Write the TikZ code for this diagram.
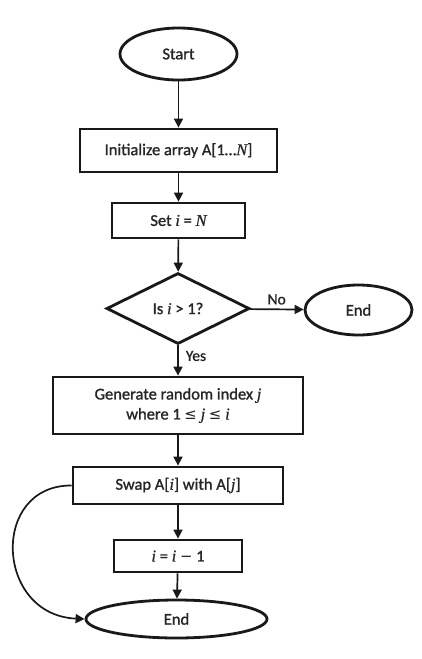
\documentclass[tikz,border=0pt]{standalone}
\usepackage{fontspec}
\setmainfont{Carlito}[FakeBold=1.2]
\newfontfamily\varfont{Liberation Serif}[FakeBold=0.8]
\newfontfamily\opfont{DejaVu Sans}[Scale=0.9]
\newcommand\vr[1]{{\varfont\itshape #1}}
\newcommand\op[1]{{\opfont #1}}
\usetikzlibrary{shapes.geometric,arrows.meta}
\tikzset{
  every node/.style={font=\fontsize{16.5}{20}\selectfont, text=black!85, inner sep=0pt},
  shapeline/.style={draw=black!90, line width=2.8pt},
  procbox/.style={shapeline, rectangle, align=center},
  termshape/.style={shapeline, ellipse},
  decision/.style={shapeline, diamond},
  flow/.style={draw=black!90, line width=1.7pt, -{Triangle[length=9pt,width=9pt]}},
  lbl/.style={font=\fontsize{15.5}{18}\selectfont}
}
\begin{document}
\begin{tikzpicture}[x=1pt,y=-1pt]
  \useasboundingbox (0,0) rectangle (421,659);
  \fill[white] (0,0) rectangle (421,659);

  % terminals, process boxes and the test
  \node[termshape, minimum width=117pt, minimum height=52pt] (start) at (178.5,54) {Start};
  \node[procbox, minimum width=197pt, minimum height=43pt] (init) at (178.5,150.5) {Initialize array A[1…\vr{N}]};
  \node[procbox, minimum width=133pt, minimum height=35pt] (seti) at (178.5,220.5) {Set \vr{i} = \vr{N}};
  \node[decision, minimum width=143pt, minimum height=71pt] (test) at (178,308.5) {Is \vr{i} > 1?};
  \node[termshape, minimum width=107pt, minimum height=50pt] (endr) at (358.5,310) {End};
  \node[procbox, minimum width=250pt, minimum height=57pt] (gen) at (178,405.5) {Generate random index \vr{j}\\ where 1 \op{≤} \vr{j} \op{≤} \vr{i}};
  \node[procbox, minimum width=210pt, minimum height=37pt] (swap) at (178,485.5) {Swap A[\vr{i}] with A[\vr{j}]};
  \node[procbox, minimum width=128pt, minimum height=32pt] (dec) at (178,556) {\vr{i} = \vr{i} \op{−} 1};
  \node[termshape, minimum width=181pt, minimum height=38pt] (endb) at (176.5,619) {End};

  % connectors
  \draw[flow] (start) -- (init);
  \draw[flow] (init) -- (seti);
  \draw[flow] (seti) -- (test);
  \draw[flow] (test) -- node[lbl, above, yshift=4pt] {No} (endr);
  \draw[flow] (test) -- node[lbl, right, xshift=7pt, pos=0.35] {Yes} (gen);
  \draw[flow] (gen) -- (swap);
  \draw[flow] (swap) -- (dec);
  \draw[flow] (dec) -- (endb);
  \draw[flow] (swap.west) .. controls (-10,485) and (-5,615) .. (endb.west);
\end{tikzpicture}
\end{document}
